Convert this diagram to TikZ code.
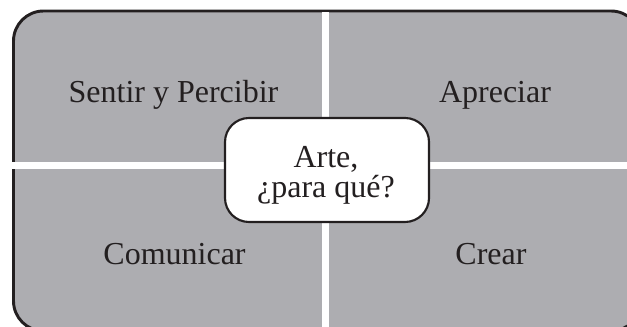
\documentclass[tikz,border=0pt]{standalone}
\usepackage{fontspec}
\setmainfont{Liberation Serif}
\definecolor{quadgray}{RGB}{173,173,177}
\definecolor{inkblack}{RGB}{35,31,32}
\begin{document}
\begin{tikzpicture}[x=0.75pt,y=-0.75pt,
  lbl/.style={font=\fontsize{24}{30}\selectfont, text=inkblack, anchor=base, inner sep=0pt},
  centerbox/.style={draw=inkblack, fill=white, line width=1.6pt, rounded corners=18pt,
    minimum width=153pt, minimum height=78pt, inner sep=0pt}]
\useasboundingbox (0,0) rectangle (627,327);
\begin{scope}
\clip (0,0) rectangle (627,327);
\draw[fill=quadgray, draw=inkblack, line width=2.2pt, rounded corners=22.5pt]
  (13.5,11) rectangle (641,331);
\fill[white] (322,12.5) rectangle (329,340);
\fill[white] (5,162) rectangle (640,169);
\end{scope}
\node[lbl] (sentir) at (173.5,103) {Sentir y Percibir};
\node[lbl] (apreciar) at (495,103) {Apreciar};
\node[lbl] (comunicar) at (174.5,264) {Comunicar};
\node[lbl] (crear) at (491,264) {Crear};
\node[centerbox] (centro) at (327,170) {};
\node[lbl] (arte) at (326,168) {Arte,};
\node[lbl] (paraque) at (326,198) {¿para qué?};
\end{tikzpicture}
\end{document}
